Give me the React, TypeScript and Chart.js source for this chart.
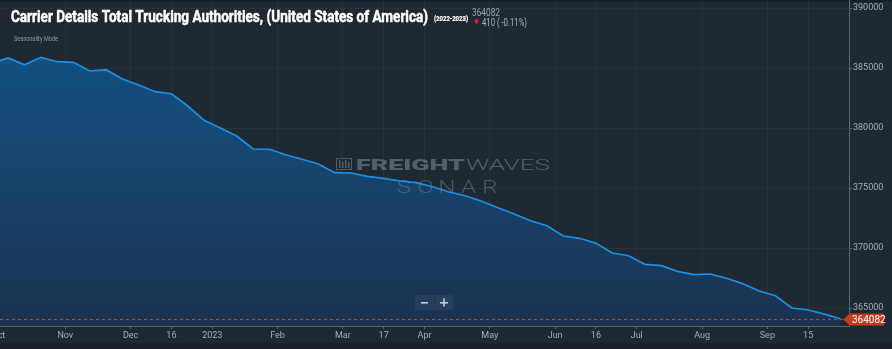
import React, { useEffect, useRef } from 'react';
import { Chart, registerables } from 'chart.js';

Chart.register(...registerables);

// Weekly values, first entry is the week just before the visible window (index -1)
const firstWeekIndex = -1;
const authorities = [
  385400, 385833, 385275, 385892, 385525, 385475, 384750, 384858, 384083, 383583,
  383025, 382858, 381833, 380642, 380000, 379333, 378250, 378225, 377775, 377392,
  377000, 376275, 376250, 375975, 375808, 375583, 375442, 375108, 374667, 374358,
  373892, 373358, 372833, 372275, 371858, 371000, 370808, 370392, 369583, 369358,
  368642, 368525, 368058, 367775, 367833, 367475, 367025, 366417, 366025, 365000,
  364833, 364492, 364082,
];
const xTickPositions = [-0.6, 3.5, 7.5, 10, 12.5, 16.5, 20.5, 23, 25.5, 29.5, 33.5, 36, 38.5, 42.5, 46.5, 49];
const xTickLabels = ['Oct', 'Nov', 'Dec', '16', '2023', 'Feb', 'Mar', '17', 'Apr', 'May', 'Jun', '16', 'Jul', 'Aug', 'Sep', '15'];
const yTickValues = [365000, 370000, 375000, 380000, 385000, 390000];
const latestValue = 364082;
const changeValue = 410;
const changePct = '-0.11%';
const titleText = 'Carrier Details Total Trucking Authorities, (United States of America)';
const periodText = '(2022-2023)';
const modeText = 'Seasonality Mode';

const W = 892;
const H = 349;

function fitText(ctx: CanvasRenderingContext2D, text: string, x: number, y: number, font: string, color: string, width: number, stroke = 0) {
  ctx.save();
  ctx.font = font;
  ctx.fillStyle = color;
  ctx.textBaseline = 'alphabetic';
  ctx.textAlign = 'left';
  const w = ctx.measureText(text).width;
  ctx.translate(x, y);
  ctx.scale(width / w, 1);
  ctx.fillText(text, 0, 0);
  if (stroke > 0) {
    ctx.strokeStyle = color;
    ctx.lineWidth = stroke;
    ctx.lineJoin = 'round';
    ctx.strokeText(text, 0, 0);
  }
  ctx.restore();
}

function drawWatermark(ctx: CanvasRenderingContext2D) {
  ctx.save();
  ctx.strokeStyle = 'rgba(120,132,144,0.55)';
  ctx.lineWidth = 1;
  ctx.strokeRect(336.5, 158.5, 15, 11);
  ctx.fillStyle = 'rgba(120,132,144,0.55)';
  for (let i = 0; i < 4; i++) ctx.fillRect(339 + i * 3, 160 + (i % 2) * 2, 1.5, 8 - (i % 2) * 2);
  fitText(ctx, 'FREIGHT', 356, 169.5, '900 15px Roboto', 'rgba(120,132,144,0.6)', 109);
  fitText(ctx, 'WAVES', 466, 169.5, '300 15px Roboto', 'rgba(120,132,144,0.6)', 84);
  ctx.font = '300 18px Roboto';
  ctx.fillStyle = 'rgba(120,132,144,0.5)';
  ctx.textAlign = 'center';
  ctx.textBaseline = 'alphabetic';
  const sonar = 'SONAR';
  for (let i = 0; i < sonar.length; i++) {
    ctx.save();
    ctx.translate(404 + i * 21.5, 192.5);
    ctx.scale(1.35, 1);
    ctx.fillText(sonar[i], 0, 0);
    ctx.restore();
  }
  ctx.restore();
}

function drawLatestMarker(chart: any) {
  const ctx = chart.ctx as CanvasRenderingContext2D;
  const y = chart.scales.y;
  const area = chart.chartArea;
  const p = y.getPixelForValue(latestValue);
  const row = Math.floor(p);
  const tip = y.left - 6;
  ctx.save();
  ctx.setLineDash([]);
  ctx.globalAlpha = 1;
  ctx.shadowColor = 'rgba(0,0,0,0)';
  ctx.fillStyle = '#d23a2c';
  for (let x = Math.floor(area.left); x < tip - 1; x += 6) {
    ctx.fillRect(x, row, Math.min(3, tip - x), 1);
  }
  ctx.fillStyle = '#c43a1c';
  ctx.beginPath();
  ctx.moveTo(tip, row + 0.5);
  ctx.lineTo(y.left + 1, row - 5.5);
  ctx.lineTo(W - 8, row - 5.5);
  ctx.lineTo(W - 8, row + 6.5);
  ctx.lineTo(y.left + 1, row + 6.5);
  ctx.closePath();
  ctx.fill();
  ctx.fillStyle = '#ffffff';
  ctx.font = '10px Roboto';
  ctx.textBaseline = 'middle';
  ctx.textAlign = 'left';
  ctx.fillText(String(latestValue), y.left + 3, row + 1);
  ctx.restore();
}

const decorPlugin = {
  id: 'decor',
  beforeDraw(chart: any) {
    const ctx = chart.ctx as CanvasRenderingContext2D;
    ctx.save();
    ctx.fillStyle = '#1e2934';
    ctx.fillRect(0, 0, W, H);
    ctx.fillStyle = '#171f27';
    ctx.fillRect(0, 0, W, 2);
    ctx.fillStyle = '#1a232c';
    ctx.fillRect(0, 343, W, H - 343);
    ctx.restore();
  },
  beforeDatasetDraw(chart: any) {
    drawWatermark(chart.ctx as CanvasRenderingContext2D);
  },
  afterDraw(chart: any) {
    const ctx = chart.ctx as CanvasRenderingContext2D;
    ctx.save();
    // zoom buttons
    ctx.fillStyle = 'rgba(255,255,255,0.05)';
    ctx.fillRect(415, 295, 38, 15);
    ctx.fillStyle = 'rgba(0,0,0,0.2)';
    ctx.fillRect(434, 297, 1, 11);
    ctx.fillStyle = '#c5ccd3';
    ctx.fillRect(421, 302, 7, 1.6);
    ctx.fillRect(440, 302, 8, 1.6);
    ctx.fillRect(443.2, 298.5, 1.6, 8);
    ctx.restore();

    drawLatestMarker(chart);

    ctx.save();
    fitText(ctx, titleText, 11, 22, 'bold 16px Roboto', '#ffffff', 417, 0.5);
    fitText(ctx, periodText, 434, 20.5, 'bold 7px Roboto', '#ffffff', 34, 0.2);
    fitText(ctx, modeText, 14, 40.5, '7px Roboto', '#8f99a3', 44);
    fitText(ctx, String(latestValue), 472, 16, '10px Roboto', '#9aa3ac', 28);
    ctx.fillStyle = '#e8192c';
    ctx.beginPath();
    ctx.moveTo(474, 20);
    ctx.lineTo(479, 20);
    ctx.lineTo(476.5, 24.5);
    ctx.closePath();
    ctx.fill();
    ctx.fillRect(475.7, 18.5, 1.6, 2);
    fitText(ctx, `${changeValue} ( ${changePct})`, 482, 25.5, '10px Roboto', '#aab3bb', 45);
    ctx.restore();
  },
};

export default function App() {
  const ref = useRef<HTMLCanvasElement | null>(null);
  useEffect(() => {
    if (!ref.current) return;
    const data = authorities.map((v, i) => ({ x: i + firstWeekIndex, y: v }));
    const chart = new Chart(ref.current, {
      type: 'line',
      data: {
        datasets: [
          {
            data,
            borderColor: '#1a8fe3',
            borderWidth: 1.7,
            pointRadius: 0,
            tension: 0,
            fill: 'start',
            backgroundColor: (c: any) => {
              const area = c.chart.chartArea;
              if (!area) return '#173e66';
              const g = c.chart.ctx.createLinearGradient(0, area.top, 0, area.bottom);
              g.addColorStop(0, '#11578c');
              g.addColorStop(1, '#1b3250');
              return g;
            },
          },
        ],
      },
      options: {
        responsive: false,
        maintainAspectRatio: false,
        animation: false,
        devicePixelRatio: 1,
        layout: { padding: 0 },
        plugins: { legend: { display: false }, tooltip: { enabled: false }, title: { display: false } },
        scales: {
          x: {
            type: 'linear',
            min: -0.5,
            max: 51.5,
            afterBuildTicks: (s: any) => {
              s.ticks = xTickPositions.map((v) => ({ value: v }));
            },
            afterFit: (s: any) => {
              s.height = 23;
              s.paddingLeft = 0;
              s.paddingRight = 0;
            },
            ticks: {
              autoSkip: false,
              maxRotation: 0,
              color: '#a3acb5',
              font: { family: 'Roboto', size: 9 },
              padding: 1,
              callback: (_v: any, i: number) => xTickLabels[i],
            },
            grid: { color: 'rgba(255,255,255,0.045)', tickColor: '#5b6570', tickLength: 3 },
            border: { color: '#5b6570' },
          },
          y: {
            position: 'right',
            min: 363500,
            max: 390667,
            afterBuildTicks: (s: any) => {
              s.ticks = yTickValues.map((v) => ({ value: v }));
            },
            afterFit: (s: any) => {
              s.width = 43;
              s.paddingTop = 0;
              s.paddingBottom = 0;
            },
            ticks: {
              color: '#a3acb5',
              font: { family: 'Roboto', size: 9 },
              padding: 1,
              callback: (v: any) => String(v),
            },
            grid: { color: 'rgba(255,255,255,0.045)', tickColor: '#5b6570', tickLength: 3 },
            border: { color: '#5b6570' },
          },
        },
      },
      plugins: [decorPlugin],
    } as any);
    return () => chart.destroy();
  }, []);
  return (
    <div style={{ position: 'fixed', left: 0, top: 0, width: W, height: H, background: '#1e2934' }}>
      <canvas ref={ref} width={W} height={H} style={{ width: W, height: H, display: 'block' }} />
    </div>
  );
}
